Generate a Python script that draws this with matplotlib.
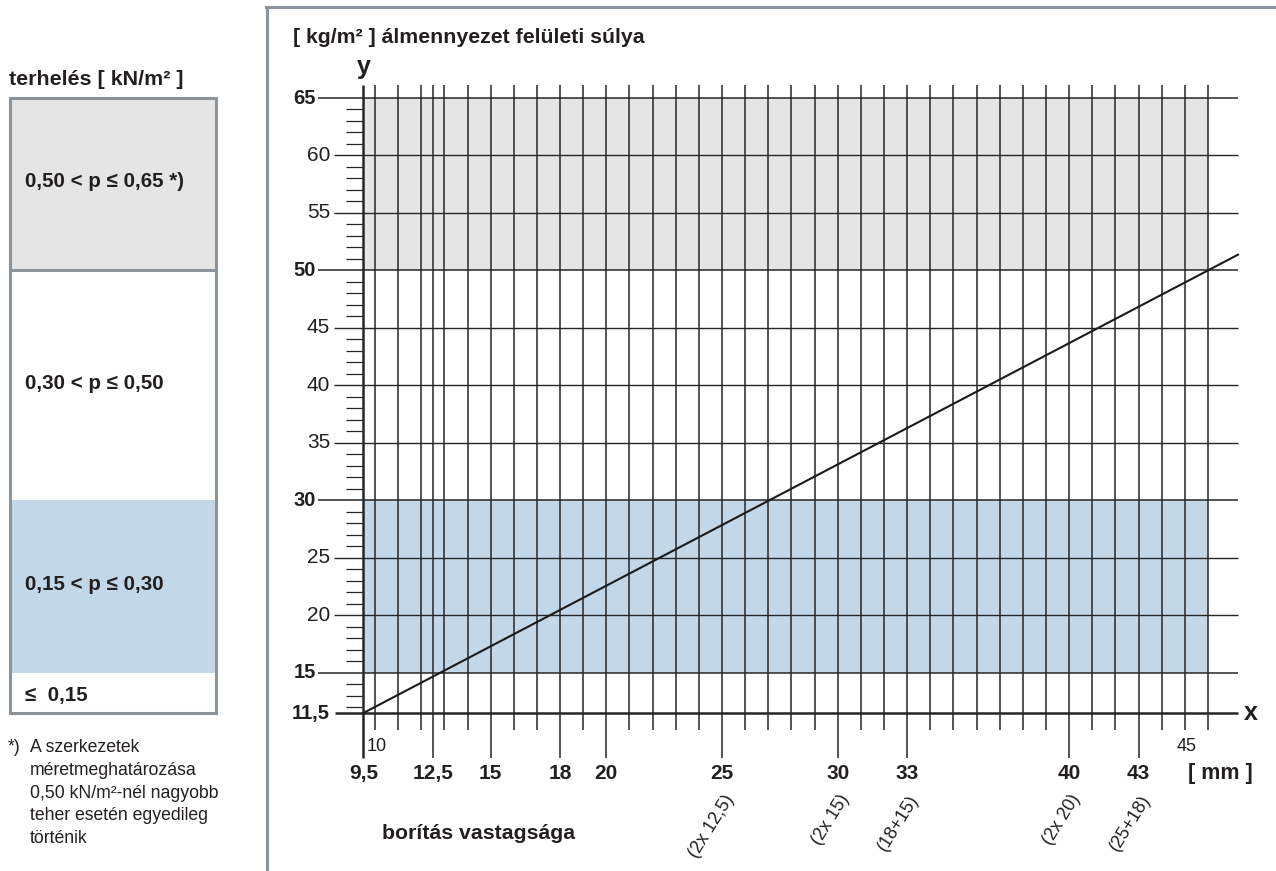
import matplotlib
matplotlib.use("Agg")
import matplotlib.pyplot as plt
from matplotlib.lines import Line2D

# ---------------- data ----------------
thickness_mm = [9.5, 46.0, 47.3]          # boards thickness (x)
weight_kg = [11.5, 50.0, 51.37]           # ceiling surface weight (y)

x_major = [9.5, 12.5, 15, 18, 20, 25, 30, 33, 40, 43]
x_major_labels = ["9,5", "12,5", "15", "18", "20", "25", "30", "33", "40", "43"]
x_combo = [25, 30, 33, 40, 43]
x_combo_labels = ["(2x 12,5)", "(2x 15)", "(18+15)", "(2x 20)", "(25+18)"]
x_minor = list(range(10, 47))
x_small = [10, 45]
x_small_labels = ["10", "45"]

y_bold = [11.5, 15, 30, 50, 65]
y_bold_labels = ["11,5", "15", "30", "50", "65"]
y_regular = [20, 25, 35, 40, 45, 55, 60]
y_regular_labels = ["20", "25", "35", "40", "45", "55", "60"]
y_minor = [v for v in range(12, 65) if v % 5 != 0]

band_lo = [50, 15]
band_hi = [65, 30]
band_colors = ["#e5e5e5", "#c2d8e8"]
band_x_end = 46.0

load_edges = [65, 50, 30, 15, 11.5]
load_labels = ["0,50 < p \u2264 0,65 *)", "0,30 < p \u2264 0,50",
               "0,15 < p \u2264 0,30", "\u2264  0,15"]
load_colors = ["#e5e5e5", "white", "#c2d8e8", "white"]

# ---------------- layout helpers ----------------
W, H = 1276, 871
FAM = ["Liberation Sans Narrow", "Liberation Sans", "DejaVu Sans"]
plt.rcParams["font.family"] = FAM
TXT = "#231f20"
GRID = "#262626"
FRAME = "#8c939a"

PX_X0, PX_X1 = 363.4, 1238.0
PX_Y0, PX_Y1 = 713.0, 98.0
XMIN, XMAX = 9.5, 47.3
YMIN, YMAX = 11.5, 65.0
sx = (PX_X1 - PX_X0) / (XMAX - XMIN)
sy = (PX_Y0 - PX_Y1) / (YMAX - YMIN)

def dx(px):
    return XMIN + (px - PX_X0) / sx

def dy(px):
    return YMIN + (PX_Y0 - px) / sy

fig = plt.figure(figsize=(W / 100, H / 100), dpi=100)
ax = fig.add_axes([PX_X0 / W, (H - PX_Y0) / H, (PX_X1 - PX_X0) / W, (PX_Y0 - PX_Y1) / H])
ax.set_xlim(XMIN, XMAX)
ax.set_ylim(YMIN, YMAX)
ax.axis("off")

# bands
for lo, hi, c in zip(band_lo, band_hi, band_colors):
    ax.fill_between([XMIN, band_x_end], lo, hi, color=c, lw=0, zorder=1)

top = dy(85)
short_bot = dy(730)
long_bot = dy(758)

# vertical lines
for xv in x_minor + [12.5]:
    bot = long_bot if xv in x_major else short_bot
    ax.plot([xv, xv], [bot, top], color=GRID, lw=1.1, zorder=3, clip_on=False,
            solid_capstyle="butt")
# y axis
ax.plot([XMIN, XMIN], [long_bot, top], color=GRID, lw=1.8, zorder=4, clip_on=False,
        solid_capstyle="butt")

# horizontal lines
for yv in y_bold + y_regular:
    if yv == 11.5:
        x_start, lw = dx(335), 1.8
    elif yv in y_bold:
        x_start, lw = dx(318), 1.1
    else:
        x_start, lw = dx(334), 1.0
    ax.plot([x_start, XMAX], [yv, yv], color=GRID, lw=lw, zorder=3, clip_on=False,
            solid_capstyle="butt")
for yv in y_minor:
    ax.plot([dx(346), XMIN], [yv, yv], color=GRID, lw=0.9, zorder=3, clip_on=False,
            solid_capstyle="butt")

# data line
ax.plot(thickness_mm, weight_kg, color="#1a1a1a", lw=1.5, zorder=5, clip_on=False)

# y labels
for yv, lab in zip(y_bold, y_bold_labels):
    xr = dx(330) if yv == 11.5 else dx(316)
    ax.text(xr, yv, lab, ha="right", va="center", fontsize=14.5, fontweight="bold",
            color=TXT, family=FAM)
for yv, lab in zip(y_regular, y_regular_labels):
    ax.text(dx(330), yv, lab, ha="right", va="center", fontsize=15,
            color=TXT, family=FAM)

# x labels
for xv, lab in zip(x_major, x_major_labels):
    ax.text(xv, dy(773), lab, ha="center", va="center", fontsize=15, fontweight="bold",
            color=TXT, family=FAM)
for xv, lab in zip(x_small, x_small_labels):
    ax.text(xv + 0.08, dy(746), lab, ha="center", va="center", fontsize=13,
            color=TXT, family=FAM)
for xv, lab in zip(x_combo, x_combo_labels):
    ax.text(xv + dx(371.4) - XMIN, dy(796), lab, ha="right", va="center", fontsize=13,
            rotation=58, rotation_mode="anchor", color=TXT, family=FAM)

ax.text(dx(1220), dy(773), "[ mm ]", ha="center", va="center", fontsize=15.5,
        fontweight="bold", color=TXT, family=FAM)
ax.text(dx(479), dy(833), "borítás vastagsága", ha="center", va="center", fontsize=15.3,
        fontweight="bold", color=TXT, family=FAM)
ax.text(dx(1251), YMIN, "x", ha="center", va="center", fontsize=18,
        fontweight="bold", color=TXT, family=FAM)
ax.text(XMIN, dy(74), "y", ha="center", va="baseline", fontsize=18,
        fontweight="bold", color=TXT, family=FAM)
ax.text(dx(293), dy(43), "[ kg/m\u00b2 ] álmennyezet felületi súlya", ha="left",
        va="baseline", fontsize=15.3, fontweight="bold", color=TXT, family=FAM)

# ---------------- left panel ----------------
axl = fig.add_axes([10 / W, (H - PX_Y0) / H, (216 - 10) / W, (PX_Y0 - PX_Y1) / H])
axl.set_xlim(0, 1)
axl.set_ylim(YMIN, YMAX)
axl.set_xticks([])
axl.set_yticks([])
for i, lab in enumerate(load_labels):
    hi, lo = load_edges[i], load_edges[i + 1]
    axl.axhspan(lo, hi, color=load_colors[i], lw=0, zorder=1)
    axl.text(0.075, (hi + lo) / 2 + (0.2 if i < 3 else -0.2), lab,
             ha="left", va="center", fontsize=14.8, fontweight="bold", color=TXT,
             family=FAM)
axl.axhline(load_edges[1], color=FRAME, lw=2.2, zorder=3)
for s in axl.spines.values():
    s.set_color(FRAME)
    s.set_linewidth(2.2)

fig.text(9 / W, 1 - 85 / H, "terhelés [ kN/m\u00b2 ]", ha="left", va="baseline",
         fontsize=15.4, fontweight="bold", color=TXT, family=FAM)

foot = ["A szerkezetek", "méretmeghatározása", "0,50 kN/m\u00b2-nél nagyobb",
        "teher esetén egyedileg", "történik"]
fig.text(8 / W, 1 - 752 / H, "*)", ha="left", va="baseline", fontsize=12.7,
         color=TXT, family=FAM)
for i, line in enumerate(foot):
    fig.text(30 / W, 1 - (752 + 22.8 * i) / H, line, ha="left", va="baseline",
             fontsize=12.7, color=TXT, family=FAM)

# outer frame
fig.add_artist(Line2D([266 / W, 1], [1 - 7 / H, 1 - 7 / H], color=FRAME, lw=2.2,
                      transform=fig.transFigure))
fig.add_artist(Line2D([267 / W, 267 / W], [1 - 7 / H, 0], color=FRAME, lw=2.2,
                      transform=fig.transFigure))

fig.savefig("out.png", dpi=100)
